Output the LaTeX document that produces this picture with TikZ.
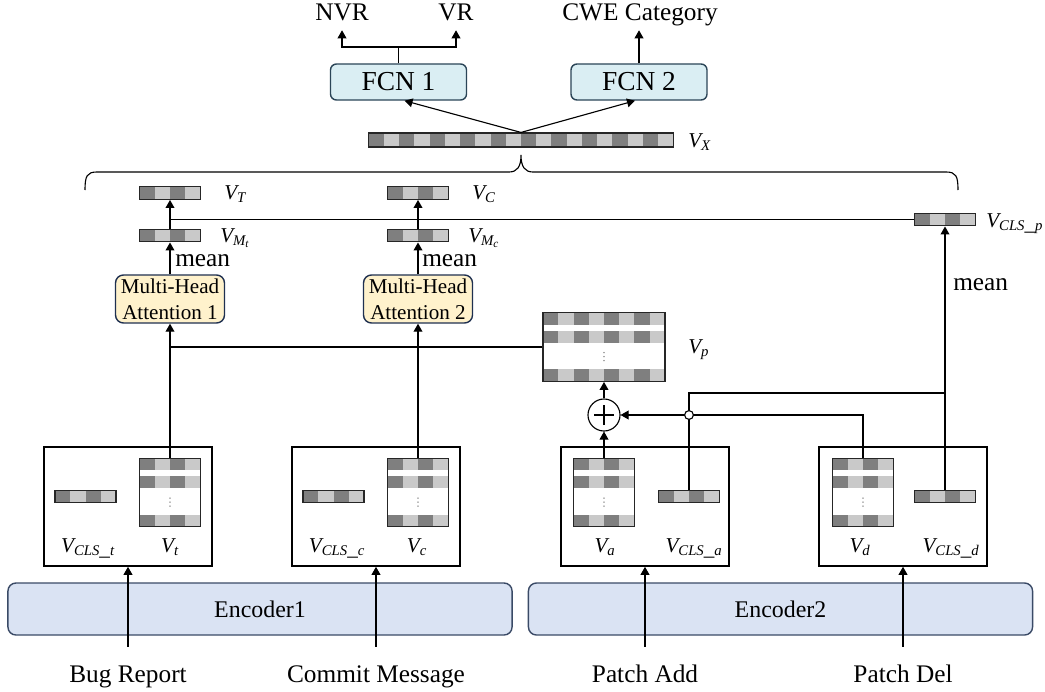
\documentclass[tikz,border=0pt]{standalone}
\usepackage{fontspec}
\setmainfont{Liberation Serif}
\usetikzlibrary{arrows.meta,calc}
\DeclareMathSizes{15}{15}{10.5}{8}

\definecolor{darkcell}{HTML}{7F7F7F}
\definecolor{lightcell}{HTML}{C9C9C9}
\definecolor{fcnfill}{HTML}{DAEEF3}
\definecolor{fcnline}{HTML}{2B4557}
\definecolor{attfill}{HTML}{FFF2CC}
\definecolor{attline}{HTML}{1F3050}
\definecolor{encfill}{HTML}{DAE3F3}
\definecolor{encline}{HTML}{3A4A66}

% vector names
\newcommand{\vlab}[1]{$\mathit{V}_{\mathit{#1}}$}

\tikzset{
  line/.style={line width=0.8pt},
  arr/.style={line, -{Triangle[length=0.2cm,width=0.22cm]}},
  vecbar/.style={draw=black!85, line width=0.8pt, fill=lightcell, inner sep=0pt,
    minimum width=#1*0.381cm, minimum height=0.32cm,
    path picture={\foreach \i in {1,3,...,#1}
      \fill[darkcell] ([xshift={(\i-1)*0.381cm}]path picture bounding box.north west)
        rectangle ++(0.381cm,-0.5cm);}},
  matbox/.style={draw=black!85, line width=0.8pt, fill=white, inner sep=0pt,
    minimum width=#1*0.381cm, minimum height=1.72cm,
    path picture={
      \foreach \r in {0,0.45,1.42}{
        \fill[lightcell] ([yshift={-\r*1cm}]path picture bounding box.north west)
          rectangle ++(#1*0.381cm,-0.3cm);
        \foreach \i in {1,3,...,#1}
          \fill[darkcell] ([xshift={(\i-1)*0.381cm},yshift={-\r*1cm}]path picture bounding box.north west)
            rectangle ++(0.381cm,-0.3cm);
      }
      \foreach \d in {1.0,1.1,1.2}
        \fill[black!60] ([yshift={-\d*1cm}]path picture bounding box.north) circle (0.018cm);
    }},
  outbox/.style={draw, line width=1.1pt, minimum width=4.2cm, minimum height=2.975cm},
  encoder/.style={draw=encline, fill=encfill, line width=1pt, rounded corners=0.2cm,
    minimum width=12.6cm, minimum height=1.3cm, font=\fontsize{17}{20}\selectfont},
  fcn/.style={draw=fcnline, fill=fcnfill, line width=1pt, rounded corners=0.15cm,
    minimum width=3.4cm, minimum height=0.9cm, font=\fontsize{19.5}{22}\selectfont},
  att/.style={draw=attline, fill=attfill, line width=1pt, rounded corners=0.2cm,
    minimum width=2.725cm, minimum height=1.2cm, inner sep=0pt, align=center,
    font=\fontsize{15}{18.5}\selectfont},
  plus/.style={circle, draw, line width=0.8pt, fill=white, minimum size=0.8cm, inner sep=0pt,
    path picture={
      \draw[line] ([xshift=-0.25cm]path picture bounding box.center) -- ++(0.5cm,0);
      \draw[line] ([yshift=-0.25cm]path picture bounding box.center) -- ++(0,0.5cm);}},
  hop/.style={circle, draw, line width=0.8pt, fill=white, minimum size=0.22cm, inner sep=0pt},
  toplbl/.style={anchor=base, font=\fontsize{18}{20}\selectfont,
    inner xsep=0pt, inner ysep=0.25cm, text depth=0pt},
  input/.style={anchor=base, font=\fontsize{18}{20}\selectfont,
    inner xsep=0pt, inner ysep=0.45cm, text height=12pt},
  meanlbl/.style={anchor=base west, inner sep=0pt, font=\fontsize{18}{20}\selectfont},
  vlbl/.style={anchor=base, inner sep=0pt, font=\fontsize{15}{18}\selectfont},
  vlblw/.style={vlbl, anchor=base west}
}

\begin{document}
\begin{tikzpicture}[x=0.025cm,y=-0.025cm]
\useasboundingbox (0,0) rectangle (1045,691);

% Encoders
\node[encoder] (enc1) at (260,609) {Encoder1};
\node[encoder] (enc2) at (780.5,609) {Encoder2};

% Inputs
\node[input] (bug) at (128,682) {Bug Report};
\node[input] (commit) at (376,682) {Commit Message};
\node[input] (padd) at (645,682) {Patch Add};
\node[input] (pdel) at (903,682) {Patch Del};

% Encoder outputs
\node[outbox] (box1) at (128,506.5) {};
\node[outbox] (box2) at (376,506.5) {};
\node[outbox] (box3) at (645,506.5) {};
\node[outbox] (box4) at (903,506.5) {};

\draw[arr] (bug.north) -- (box1.south);
\draw[arr] (commit.north) -- (box2.south);
\draw[arr] (padd.north) -- (box3.south);
\draw[arr] (pdel.north) -- (box4.south);

\node[vecbar=4] (vclst) at (85.5,496.5) {};
\node[matbox=4] (mt) at (170,492.5) {};
\node[vecbar=4] (vclsc) at (333.5,496.5) {};
\node[matbox=4] (mc) at (418,492.5) {};
\node[matbox=4] (ma) at (604,492.5) {};
\node[vecbar=4] (vclsa) at (689,496.5) {};
\node[matbox=4] (md) at (863,492.5) {};
\node[vecbar=4] (vclsd) at (945,496.5) {};

\node[vlbl] at (88,552) {\vlab{CLS\_t}};
\node[vlbl] at (170,552) {\vlab{t}};
\node[vlbl] at (337,552) {\vlab{CLS\_c}};
\node[vlbl] at (417,552) {\vlab{c}};
\node[vlbl] at (605,552) {\vlab{a}};
\node[vlbl] at (694,552) {\vlab{CLS\_a}};
\node[vlbl] at (860,552) {\vlab{d}};
\node[vlbl] at (951,552) {\vlab{CLS\_d}};

% Patch branch
\node[matbox=8] (vp) at (604,347) {};
\node[vlblw] at (688,353) {\vlab{p}};
\node[plus] (plus) at (604,415) {};
\coordinate (jn) at (945,393);

\draw[arr] (ma.north) -- (plus.south);
\draw[arr] (plus.north) -- (vp.south);
\draw[arr] (md.north) |- (plus.east);
\draw[line] (vclsa.north) |- (jn);
\node[hop] at (vclsa.north |- plus.east) {};

\node[vecbar=4] (vclsp) at (945,219.5) {};
\node[vlblw] at (986,227) {\vlab{CLS\_p}};
\draw[arr] (vclsd.north) -- (vclsp.south);
\node[meanlbl] at (953,290) {mean};

% Attention
\node[att] (att1) at (170,299) {Multi-Head\\Attention 1};
\node[att] (att2) at (418,299) {Multi-Head\\Attention 2};
\draw[arr] (mt.north) -- (att1.south);
\draw[arr] (mc.north) -- (att2.south);
\draw[line] (vp.west) -- (vp.west -| mt.north);

\node[vecbar=4] (vmt) at (170,235.5) {};
\node[vecbar=4] (vmc) at (418,235.5) {};
\node[vecbar=4] (vt) at (170,193) {};
\node[vecbar=4] (vc) at (418,193) {};
\node[vlblw] at (220,242) {$\mathit{V}_{\mathit{M}_{\mathit{t}}}$};
\node[vlblw] at (468,242) {$\mathit{V}_{\mathit{M}_{\mathit{c}}}$};
\node[vlblw] at (224,199) {\vlab{T}};
\node[vlblw] at (472,199) {\vlab{C}};

\draw[arr] (att1.north) -- (vmt.south);
\draw[arr] (att2.north) -- (vmc.south);
\node[meanlbl] at (175,266) {mean};
\node[meanlbl] at (422,266) {mean};
\draw[arr] (vmt.north) -- (vt.south);
\draw[arr] (vmc.north) -- (vc.south);
\draw[line] (vt.south |- vclsp.west) -- (vclsp.west);

% Brace
\draw[line] (85,190) .. controls (85,176) and (87,172) .. (97,172) -- (509,172)
  .. controls (517,172) and (521,167) .. (521,155)
  .. controls (521,167) and (525,172) .. (533,172) -- (946,172)
  .. controls (956,172) and (958,176) .. (958,190);

% Heads
\node[vecbar=20, minimum height=0.35cm] (vx) at (521,140) {};
\node[vlblw] at (688,147) {\vlab{X}};
\node[fcn] (fcn1) at (398.5,82) {FCN 1};
\node[fcn] (fcn2) at (639,82) {FCN 2};
\draw[arr] (vx.north) -- ([xshift=0.15cm]fcn1.south);
\draw[arr] (vx.north) -- ([xshift=-0.1cm]fcn2.south);

\node[toplbl] (nvr) at (342,20) {NVR};
\node[toplbl] (vr) at (456,20) {VR};
\node[toplbl] (cwe) at (640,20) {CWE Category};
\coordinate (split) at (398.5,47);
\draw[line] (fcn1.north) -- (split);
\draw[arr] (split) -| (nvr.south);
\draw[arr] (split) -| (vr.south);
\draw[arr] (fcn2.north) -- (fcn2.north |- cwe.south);

\end{tikzpicture}
\end{document}
